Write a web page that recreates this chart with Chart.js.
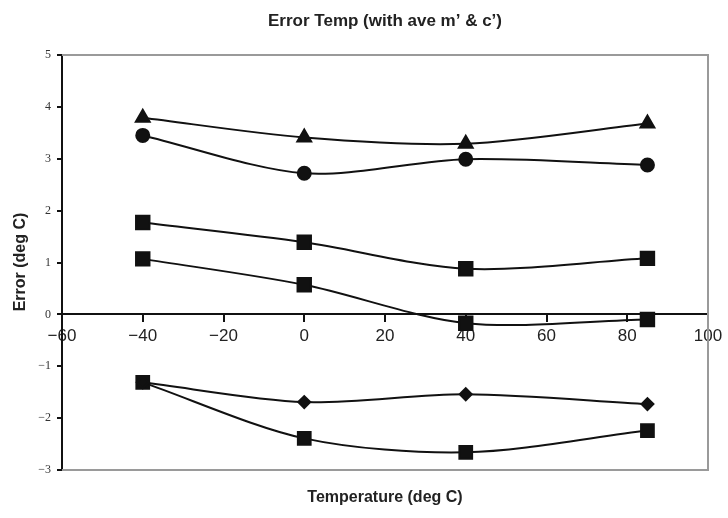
<!DOCTYPE html>
<html><head><meta charset="utf-8">
<script src="https://cdn.jsdelivr.net/npm/chart.js@4/dist/chart.umd.min.js"></script>
<style>html,body{margin:0;padding:0;background:#fff}#wrap{width:728px;height:518px}</style>
</head><body><div id="wrap"><canvas id="c" width="728" height="518"></canvas></div>
<script>
const temps = [-40, 0, 40, 85];
const triangleSeries = [3.79, 3.41, 3.29, 3.68];
const circleSeries = [3.45, 2.72, 2.99, 2.88];
const squareSeriesA = [1.77, 1.39, 0.88, 1.08];
const squareSeriesB = [1.07, 0.57, -0.17, -0.10];
const diamondSeries = [-1.31, -1.69, -1.54, -1.73];
const squareSeriesC = [-1.31, -2.39, -2.66, -2.24];
const xTicks = [-60, -40, -20, 0, 20, 40, 60, 80, 100];
const yTicks = [-3, -2, -1, 0, 1, 2, 3, 4, 5];
const titleText = "Error Temp (with ave m\u2019 & c\u2019)";
const xTitle = "Temperature (deg C)";
const yTitle = "Error (deg C)";

const fmt = v => (v < 0 ? "\u2212" + Math.abs(v) : String(v));
function mk(vals, style, r) {
  return {
    data: temps.map((t, i) => ({x: t, y: vals[i]})),
    borderColor: '#111', backgroundColor: '#111', borderWidth: 2,
    pointStyle: style, pointRadius: r, pointHoverRadius: r,
    pointBorderColor: '#111', pointBackgroundColor: '#111',
    tension: 0.3, fill: false
  };
}
const frame = {
  id: 'frame',
  beforeDatasetsDraw(chart) {
    const {ctx, chartArea: a} = chart;
    ctx.save();
    ctx.strokeStyle = '#9a9a9a'; ctx.lineWidth = 2;
    ctx.beginPath();
    ctx.moveTo(a.left, a.top); ctx.lineTo(a.right, a.top);
    ctx.lineTo(a.right, a.bottom); ctx.lineTo(a.left, a.bottom);
    ctx.stroke();
    ctx.restore();
  },
  afterDraw(chart) {
    const {ctx} = chart;
    ctx.save();
    ctx.fillStyle = '#222';
    ctx.textAlign = 'center'; ctx.textBaseline = 'middle';
    ctx.font = 'bold 17px "Liberation Sans", Arial, sans-serif';
    ctx.fillText(titleText, 385, 21);
    ctx.font = 'bold 16px "Liberation Sans", Arial, sans-serif';
    ctx.fillText(xTitle, 385, 498);
    ctx.translate(21, 262); ctx.rotate(-Math.PI / 2);
    ctx.fillText(yTitle, 0, 0);
    ctx.restore();
  }
};
new Chart(document.getElementById('c'), {
  type: 'line',
  data: { datasets: [
    mk(diamondSeries, 'rectRot', 6),
    mk(triangleSeries, 'triangle', 8),
    mk(circleSeries, 'circle', 6.5),
    mk(squareSeriesA, 'rect', 9.5),
    mk(squareSeriesB, 'rect', 9.5),
    mk(squareSeriesC, 'rect', 9)
  ]},
  options: {
    responsive: false, animation: false, devicePixelRatio: 1,
    layout: { padding: { top: 55, right: 20, bottom: 48, left: 0 } },
    plugins: { legend: { display: false }, title: { display: false }, tooltip: { enabled: false } },
    scales: {
      x: {
        type: 'linear', min: -60, max: 100, position: { y: 0 },
        afterBuildTicks: s => { s.ticks = xTicks.map(v => ({value: v})); },
        ticks: { callback: v => fmt(v), color: '#222', padding: 5, maxRotation: 0,
          font: { family: '"Liberation Sans", Arial, sans-serif', size: 17 } },
        grid: { drawOnChartArea: false, drawTicks: true, tickLength: 7, color: '#111', lineWidth: 2 },
        border: { display: true, color: '#111', width: 2 }
      },
      y: {
        min: -3, max: 5,
        afterBuildTicks: s => { s.ticks = yTicks.map(v => ({value: v})); },
        afterFit: s => { s.width = 62; },
        ticks: { callback: v => fmt(v), color: '#333', padding: 6,
          font: { family: '"Liberation Serif", "Times New Roman", serif', size: 12 } },
        grid: { drawOnChartArea: false, drawTicks: true, tickLength: 5, color: '#111', lineWidth: 2 },
        border: { display: true, color: '#111', width: 2 }
      }
    }
  },
  plugins: [frame]
});
</script></body></html>
